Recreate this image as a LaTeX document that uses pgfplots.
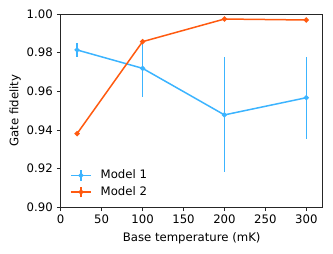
\documentclass[border=0pt]{standalone}
\usepackage{fontspec}
\setmainfont{DejaVu Sans}
\usepackage{pgfplots}
\pgfplotsset{compat=1.18}
\definecolor{mblue}{HTML}{3CB4FF}
\definecolor{morange}{HTML}{FF5A10}
\begin{document}
\fontsize{11.7bp}{14bp}\selectfont
\begin{tikzpicture}[x=1bp,y=1bp]
\useasboundingbox (-60.7bp,-46.7bp) rectangle (272.3bp,207.3bp);
\begin{axis}[
  scale only axis,
  width=262bp, height=193.3bp,
  at={(0,0)}, anchor=south west,
  xmin=0, xmax=320, ymin=0.90, ymax=1.00,
  xtick={0,50,100,150,200,250,300},
  ytick={0.90,0.92,0.94,0.96,0.98,1.00},
  yticklabel style={/pgf/number format/.cd,fixed,fixed zerofill,precision=2},
  /pgf/number format/assume math mode=true,
  tick label style={font=\fontsize{11.7bp}{14bp}\selectfont},
  label style={font=\fontsize{11.7bp}{14bp}\selectfont},
  tick align=outside, tick pos=left,
  major tick length=3.8bp,
  axis line style={line width=0.9bp, black!85},
  every tick/.style={line width=0.9bp, black!85},
  xlabel={Base temperature (mK)},
  ylabel={Gate fidelity},
  xlabel style={yshift=-1bp},
  ylabel style={yshift=-2bp},
  legend style={draw=none, fill=none, inner sep=0pt, at={(0.0355,0.04)}, anchor=south west, row sep=2bp, column sep=7bp, font=\fontsize{11.7bp}{14bp}\selectfont},
  legend cell align=left,
  legend image code/.code={
    \draw[#1] (0bp,0bp) -- (20bp,0bp);
    \draw[#1] (10bp,-5.3bp) -- (10bp,5.3bp);
    \fill[#1] (10bp,0bp) circle (1.8bp);
  },
]
\addplot[mblue, line width=1.5bp, mark=*, mark size=1.8bp,
  error bars/.cd, y dir=both, y explicit, error bar style={line width=1.6bp, mblue}, error mark=none]
  coordinates {
  (20,0.9814) +- (0,0.0038)
  (100,0.9719) +- (0,0.0147)
  (200,0.9478) +- (0,0.0297)
  (300,0.9567) +- (0,0.0212)
  };
\addlegendentry{Model 1}
\addplot[morange, line width=1.5bp, mark=*, mark size=1.8bp,
  error bars/.cd, y dir=both, y explicit, error bar style={line width=1.6bp, morange}, error mark=none]
  coordinates {
  (20,0.9381) +- (0,0.0005)
  (100,0.9857) +- (0,0.0005)
  (200,0.9974) +- (0,0.0004)
  (300,0.9969) +- (0,0.0004)
  };
\addlegendentry{Model 2}
\end{axis}
\end{tikzpicture}
\end{document}
